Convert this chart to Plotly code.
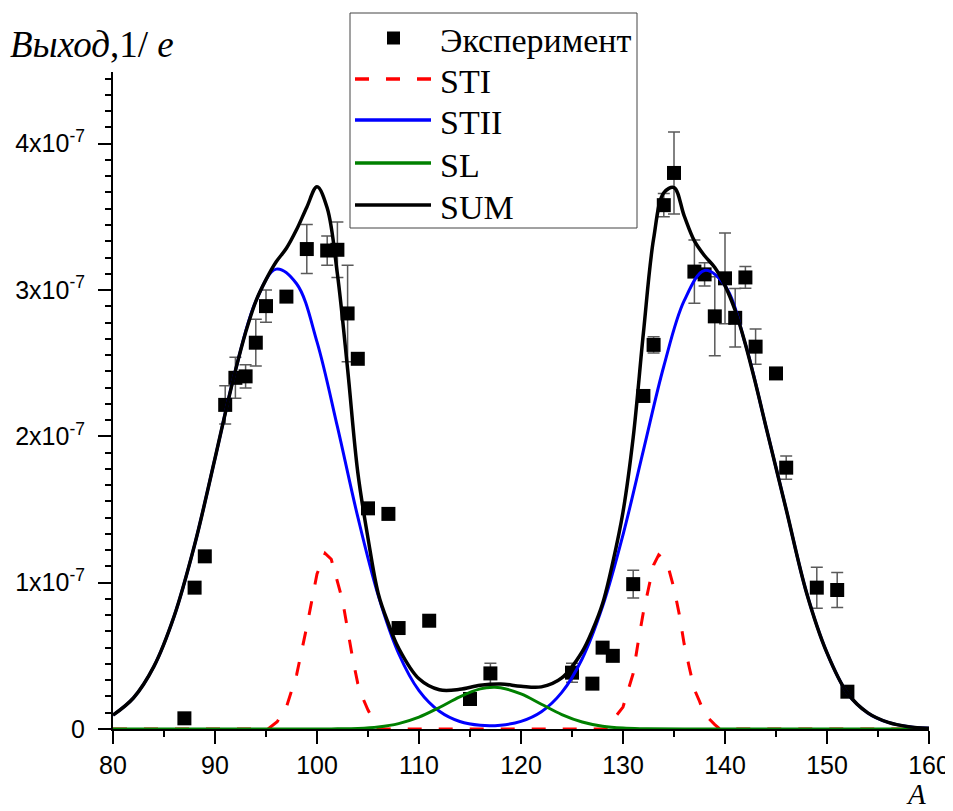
import plotly.graph_objects as go

SCALE = 1e-7  # values below are in units of 1e-7

# Experimental points
exp_x = [87, 88, 89, 91, 92, 93, 94, 95, 97, 99, 101, 102, 103, 104, 105, 107, 108, 111,
         115, 117, 125, 127, 128, 129, 131, 132, 133, 134, 135, 137, 138, 139, 140, 141,
         142, 143, 145, 146, 149, 151, 152]
exp_y = [0.073, 0.966, 1.18, 2.215, 2.40, 2.41, 2.64, 2.89, 2.955, 3.28, 3.27, 3.275, 2.84,
         2.53, 1.508, 1.47, 0.69, 0.74, 0.205, 0.38, 0.385, 0.31, 0.556, 0.50, 0.99, 2.276,
         2.625, 3.58, 3.80, 3.126, 3.107, 2.82, 3.08, 2.81, 3.086, 2.613, 2.43, 1.786,
         0.966, 0.95, 0.255]
exp_err = [0, 0, 0, 0.13, 0.14, 0.08, 0.16, 0.11, 0, 0.167, 0.10, 0.19, 0.33,
           0, 0, 0, 0.03, 0, 0, 0.07, 0.065, 0, 0, 0, 0.095, 0.03,
           0.055, 0.08, 0.28, 0.216, 0.08, 0.27, 0.31, 0.20, 0.074, 0.12, 0, 0.08,
           0.14, 0.12, 0]

# STI (dashed red)
sti_x = [80, 95.2, 96.1, 97.0, 98.0, 99.0, 100.0, 100.8, 101.4, 102.0, 102.5, 103.0, 103.5,
         104.0, 104.5, 105.0, 105.5, 106.0, 128.5, 129.0, 130.0, 130.5, 131.0, 131.5, 132.0,
         132.5, 133.0, 133.5, 134.0, 134.5, 135.0, 135.5, 136.0, 136.5, 137.0, 137.5, 138.0,
         139.0, 139.5, 160]
sti_y = [0, 0, 0.05, 0.15, 0.37, 0.70, 1.06, 1.20, 1.16, 1.01, 0.88, 0.68, 0.48,
         0.31, 0.21, 0.13, 0.06, 0, 0, 0.06, 0.15, 0.27, 0.38, 0.60, 0.80,
         0.96, 1.12, 1.19, 1.16, 1.09, 0.96, 0.79, 0.58, 0.42, 0.27, 0.19, 0.10,
         0.03, 0, 0]

# STII (blue)
stii_x = list(range(80, 161, 2))
stii_y = [0.095, 0.212, 0.426, 0.772, 1.258, 1.849, 2.449, 2.923, 3.143, 3.043, 2.646,
          2.066, 1.449, 0.913, 0.516, 0.262, 0.121, 0.051, 0.025, 0.026, 0.052, 0.118,
          0.250, 0.480, 0.838, 1.327, 1.904, 2.479, 2.927, 3.134, 3.03, 2.63, 2.07,
          1.50, 0.93, 0.52, 0.245, 0.11, 0.045, 0.016, 0.005]

# SL (green)
sl_x = [80, 100, 102, 104, 106, 108, 110, 112, 114, 116, 117.3, 118, 120, 122, 124, 126,
        128, 130, 132, 136, 160]
sl_y = [0, 0, 0.001, 0.004, 0.014, 0.037, 0.081, 0.147, 0.220, 0.274, 0.285, 0.282, 0.240,
        0.169, 0.099, 0.048, 0.019, 0.006, 0.002, 0, 0]

# SUM (black)
sum_x = [80, 82, 84, 86, 88, 90, 91, 92, 93, 94, 95, 96, 97, 98, 99, 100, 101, 102, 103,
         104, 105, 106, 107, 108, 110, 112, 114, 116, 118, 120, 122, 124, 126, 127, 128,
         129, 130, 131, 132, 133, 134, 135, 136, 137, 138, 139, 140, 141, 142, 143, 144,
         146, 148, 150, 152, 154, 156, 158, 160]
sum_y = [0.095, 0.212, 0.426, 0.772, 1.258, 1.849, 2.156, 2.449, 2.710, 2.923, 3.071,
         3.193, 3.285, 3.413, 3.566, 3.706, 3.56, 3.11, 2.46, 1.753, 1.304, 0.927, 0.72,
         0.553, 0.343, 0.268, 0.271, 0.299, 0.308, 0.292, 0.288, 0.349, 0.528, 0.673,
         0.857, 1.139, 1.483, 1.993, 2.706, 3.35, 3.665, 3.70, 3.507, 3.336, 3.234, 3.154,
         3.03, 2.86, 2.63, 2.36, 2.07, 1.50, 0.93, 0.52, 0.245, 0.11, 0.045, 0.016, 0.005]

x_ticks = [80, 90, 100, 110, 120, 130, 140, 150, 160]
y_tickvals = [0, 1, 2, 3, 4]
y_ticktext = ["0", "1x10<sup>-7</sup>", "2x10<sup>-7</sup>", "3x10<sup>-7</sup>", "4x10<sup>-7</sup>"]

legend_names = ["Эксперимент", "STI", "STII", "SL", "SUM"]
legend_colors = ["black", "#ff0000", "#0000ff", "#008000", "black"]


def sc(v):
    return [a * SCALE for a in v]


# page geometry (page has an 8px body margin)
OFF = 8
PX0, PX1, PY0, PY1 = 113, 929, 72, 729
W, H = 953, 811


def xp(px):
    return (px - PX0) / (PX1 - PX0)


def yp(py):
    return (PY1 - py) / (PY1 - PY0)


fig = go.Figure()
fig.add_trace(go.Scatter(
    x=exp_x, y=sc(exp_y), mode="markers", name=legend_names[0],
    marker=dict(symbol="square", size=14, color="black", line=dict(width=0)),
    error_y=dict(type="data", array=sc(exp_err), visible=True, color="#5a5a5a",
                 thickness=1.5, width=6),
    cliponaxis=False,
))
fig.add_trace(go.Scatter(
    x=sti_x, y=sc(sti_y), mode="lines", name=legend_names[1],
    line=dict(color=legend_colors[1], width=3, dash="14px,17px"), cliponaxis=False,
))
fig.add_trace(go.Scatter(
    x=stii_x, y=sc(stii_y), mode="lines", name=legend_names[2],
    line=dict(color=legend_colors[2], width=3, shape="spline"), cliponaxis=False,
))
fig.add_trace(go.Scatter(
    x=sl_x, y=sc(sl_y), mode="lines", name=legend_names[3],
    line=dict(color=legend_colors[3], width=3, shape="spline"), cliponaxis=False,
))
fig.add_trace(go.Scatter(
    x=sum_x, y=sc(sum_y), mode="lines", name=legend_names[4],
    line=dict(color=legend_colors[4], width=3.5, shape="spline"), cliponaxis=False,
))

axis_font = dict(family="Liberation Sans, Arial", size=25, color="black")
serif = "Liberation Serif, Times New Roman"

# hand-drawn legend box (matches the reference's long line samples)
shapes = [dict(type="rect", xref="paper", yref="paper", x0=xp(350), x1=xp(637),
               y0=yp(228), y1=yp(13), line=dict(color="#444", width=1),
               fillcolor="white", layer="above")]
row_y = [38, 79, 120, 163, 205]
shapes.append(dict(type="rect", xref="paper", yref="paper", x0=xp(387), x1=xp(400),
                   y0=yp(row_y[0] + 6.5), y1=yp(row_y[0] - 6.5),
                   line=dict(width=0), fillcolor="black", layer="above"))
for i in range(1, 5):
    shapes.append(dict(type="line", xref="paper", yref="paper", x0=xp(355), x1=xp(431),
                       y0=yp(row_y[i]), y1=yp(row_y[i]), layer="above",
                       line=dict(color=legend_colors[i], width=3.5,
                                 dash="14px,17px" if i == 1 else "solid")))

annotations = []
for i, name in enumerate(legend_names):
    annotations.append(dict(text=name, xref="paper", yref="paper", x=xp(438), y=yp(row_y[i] + 2),
                            xanchor="left", yanchor="middle", showarrow=False,
                            font=dict(family=serif, size=34, color="black")))
annotations.append(dict(text="<i>Выход</i>,1/ <i>e</i>", xref="paper", yref="paper",
                        x=xp(8), y=yp(44), xanchor="left", yanchor="middle", showarrow=False,
                        font=dict(family=serif, size=37, color="black")))
annotations.append(dict(text="<i>A</i>", xref="paper", yref="paper",
                        x=xp(916), y=yp(794), xanchor="center", yanchor="middle",
                        showarrow=False, borderpad=0,
                        font=dict(family=serif, size=29, color="black")))

fig.update_layout(
    width=W, height=H,
    margin=dict(l=PX0 - OFF, r=W - (PX1 - OFF), t=PY0 - OFF, b=H - (PY1 - OFF)),
    paper_bgcolor="white", plot_bgcolor="white",
    showlegend=False,
    xaxis=dict(
        range=[80, 160], tickvals=x_ticks, ticks="outside", ticklen=13, tickwidth=2,
        tickcolor="black", showline=True, linewidth=2, linecolor="black",
        showgrid=False, zeroline=False, tickfont=axis_font, layer="below traces",
        automargin=False,
        minor=dict(dtick=5, ticks="outside", ticklen=6, tickwidth=2, tickcolor="black",
                   showgrid=False),
    ),
    yaxis=dict(
        range=[0, 4.49e-7], tickvals=sc(y_tickvals), ticktext=y_ticktext,
        ticks="outside", ticklen=13, tickwidth=2, tickcolor="black",
        showline=True, linewidth=2, linecolor="black", showgrid=False, zeroline=False,
        tickfont=axis_font, layer="below traces", automargin=False,
        ticklabelstandoff=8,
        minor=dict(tick0=0, dtick=1e-7 / 9, ticks="outside", ticklen=6, tickwidth=2,
                   tickcolor="black", showgrid=False),
    ),
    shapes=shapes,
    annotations=annotations,
)

fig.write_html("out.html")
